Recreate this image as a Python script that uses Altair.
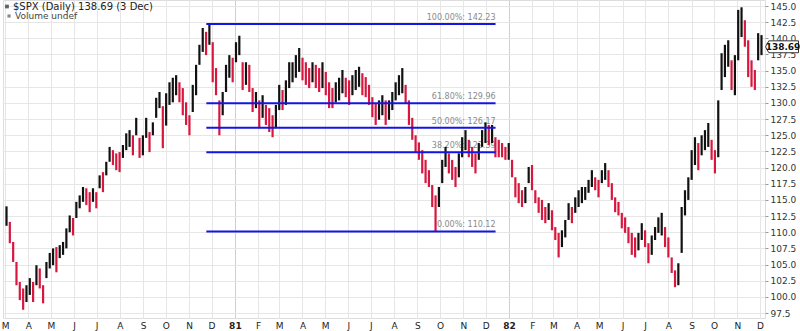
import altair as alt
import pandas as pd
import numpy as np

# ~3-trading-day high/low readings of $SPX, Mar 1980 - Dec 1982
highs = [
    114.0, 111.6, 108.5, 105.4, 102.3, 101.3, 101.8, 102.9, 102.3, 104.9,
    104.4, 101.8, 105.4, 106.8, 107.5, 107.7, 108.0, 108.5, 110.6, 112.6,
    112.2, 114.7, 115.7, 117.0, 116.8, 116.2, 116.8, 116.2, 118.8, 119.3,
    120.9, 123.2, 122.7, 122.2, 122.4, 123.5, 125.3, 125.8, 125.0, 127.7,
    124.6, 125.0, 127.7, 125.5, 127.0, 130.8, 131.7, 129.5, 131.5, 133.2,
    133.9, 134.3, 133.2, 132.3, 130.1, 128.1, 132.8, 135.9, 139.0, 141.6,
    141.0, 142.2, 139.4, 135.4, 130.4, 131.7, 135.9, 137.4, 137.0, 139.4,
    140.4, 136.3, 136.3, 135.9, 132.3, 131.7, 130.4, 131.2, 129.7, 129.2,
    128.1, 129.7, 132.8, 132.0, 133.5, 136.3, 136.3, 137.4, 138.5, 137.0,
    136.3, 135.4, 136.3, 135.9, 135.4, 136.3, 134.8, 133.2, 132.3, 133.2,
    133.9, 135.1, 133.9, 133.5, 134.3, 135.1, 135.6, 134.6, 134.0, 132.8,
    130.9, 130.0, 130.4, 131.2, 130.4, 130.4, 131.7, 133.2, 134.3, 135.4,
    132.8, 130.4, 127.7, 125.0, 123.9, 122.7, 121.2, 119.6, 117.3, 115.7,
    117.0, 121.2, 123.2, 122.2, 121.2, 120.1, 122.2, 124.7, 125.8, 124.3,
    123.2, 122.2, 123.8, 125.8, 127.0, 126.6, 126.6, 124.7, 124.3, 123.8,
    123.2, 123.8, 121.2, 118.5, 117.6, 116.5, 117.0, 120.1, 120.4, 116.5,
    115.4, 115.0, 113.9, 114.5, 113.4, 110.8, 109.9, 110.3, 111.9, 114.5,
    113.9, 115.4, 116.5, 117.0, 117.0, 118.1, 119.6, 118.5, 118.1, 119.6,
    120.7, 119.6, 117.6, 115.4, 114.7, 113.0, 112.3, 110.8, 109.9, 109.2,
    109.9, 111.4, 110.3, 108.3, 109.5, 110.8, 112.3, 113.0, 110.8, 109.2,
    106.1, 104.1, 105.2, 113.9, 116.5, 118.5, 122.7, 124.7, 123.8, 125.0,
    125.8, 126.9, 124.3, 122.7, 130.4, 137.7, 139.0, 139.7, 136.6, 137.4,
    144.4, 144.8, 142.8, 139.7, 136.6, 135.1, 140.8, 140.5,
]
lows = [
    111.0, 108.3, 105.4, 101.8, 99.5, 98.0, 99.2, 100.3, 99.2, 101.8,
    101.3, 99.0, 102.9, 104.4, 104.9, 103.8, 106.0, 106.5, 107.5, 110.0,
    109.5, 112.2, 113.7, 114.7, 114.2, 113.1, 114.7, 113.7, 116.8, 116.2,
    118.8, 120.9, 120.4, 119.6, 119.3, 121.5, 122.7, 123.2, 121.9, 125.0,
    121.5, 121.9, 124.6, 122.4, 125.0, 127.7, 129.2, 123.0, 126.5, 129.7,
    130.1, 131.2, 130.1, 128.1, 126.6, 125.0, 128.6, 131.2, 135.9, 137.9,
    137.4, 139.0, 133.2, 131.2, 125.0, 128.1, 131.7, 133.9, 133.2, 136.3,
    137.4, 132.0, 132.8, 131.7, 128.6, 129.2, 126.1, 127.7, 126.6, 125.5,
    124.7, 126.1, 128.9, 128.9, 129.7, 132.3, 133.2, 133.9, 134.8, 133.5,
    132.8, 132.3, 133.2, 132.3, 131.7, 132.3, 131.2, 129.2, 129.2, 130.1,
    130.4, 131.5, 130.9, 129.7, 131.2, 132.0, 132.5, 131.2, 130.9, 129.7,
    127.8, 126.6, 127.4, 128.1, 126.6, 127.4, 128.9, 130.4, 131.2, 131.5,
    130.0, 126.6, 124.3, 122.4, 121.2, 119.1, 117.6, 117.0, 113.9, 110.1,
    113.9, 117.6, 120.1, 119.1, 118.1, 117.0, 118.5, 121.6, 122.7, 121.6,
    120.1, 119.1, 121.2, 123.2, 123.8, 123.5, 123.8, 121.6, 121.6, 121.6,
    121.2, 121.2, 118.5, 115.4, 114.5, 113.9, 114.5, 117.6, 116.5, 114.5,
    113.0, 111.9, 111.4, 111.9, 110.3, 108.8, 106.1, 107.7, 109.2, 111.9,
    111.4, 113.0, 113.9, 114.5, 115.0, 116.1, 117.0, 116.5, 115.4, 117.6,
    118.1, 117.0, 115.0, 113.1, 112.6, 110.6, 109.9, 108.3, 106.5, 106.1,
    107.2, 108.8, 107.7, 105.2, 106.5, 108.8, 109.9, 109.5, 107.7, 106.1,
    103.7, 101.5, 101.8, 106.8, 112.6, 115.0, 118.1, 120.4, 119.6, 121.9,
    122.7, 123.2, 121.2, 119.1, 121.6, 132.0, 134.0, 135.6, 132.0, 131.2,
    136.6, 140.2, 138.7, 134.0, 132.5, 132.0, 136.6, 137.4,
]

fib_levels = [142.23, 129.96, 126.17, 122.39, 110.12]
fib_labels = ["100.00%: 142.23", "61.80%: 129.96", "50.00%: 126.17",
              "38.20%: 122.39", "0.00%: 110.12"]
fib_start = "1980-11-24"
fib_end = "1981-12-14"
last_price = 138.69
title_text = "$SPX (Daily) 138.69 (3 Dec)"
subtitle_text = "Volume undef"
y_ticks = [97.5 + 2.5 * i for i in range(20)]
month_ticks = pd.date_range("1980-03-01", "1982-12-01", freq="MS")

dates = pd.date_range("1980-03-03", "1982-12-03", periods=len(highs))
df = pd.DataFrame({"date": dates, "high": highs, "low": lows})
mid = (df["high"] + df["low"]) / 2
df["dir"] = np.where(mid >= mid.shift(1).fillna(mid), "up", "down")

fib = pd.DataFrame({"level": fib_levels, "label": fib_labels,
                    "start": pd.to_datetime(fib_start), "end": pd.to_datetime(fib_end)})

W, H = 762, 318
FONT = "DejaVu Sans"

def dt(s):
    t = pd.Timestamp(s)
    return alt.DateTime(year=t.year, month=t.month, date=t.day, hours=t.hour)

xscale = alt.Scale(domain=[dt("1980-02-27 08:00"), dt("1982-12-07 16:00")])
yscale = alt.Scale(domain=[96.73, 145.93], zero=False, nice=False)

xaxis = alt.Axis(
    values=[dt(m) for m in month_ticks],
    labelExpr="month(datum.value) == 0 ? timeFormat(datum.value, '%y') : slice(timeFormat(datum.value, '%b'), 0, 1)",
    labelFontWeight={"condition": {"test": "month(datum.value) === 0", "value": "bold"}, "value": "normal"},
    gridColor={"condition": {"test": "month(datum.value) === 0", "value": "#cfcfcf"}, "value": "#e6e6e6"},
    grid=True, domain=False, ticks=False, labelPadding=3, labelFontSize=9,
    labelColor="#222", labelFont=FONT, title=None, labelOverlap=False, labelBound=False,
    labelFlush=False,
)
yaxis = alt.Axis(
    orient="right", values=y_ticks, format=".1f", grid=True, gridColor="#e6e6e6",
    tickSize=3, tickColor="#999", labelFontSize=9, labelFont=FONT, labelColor="#333",
    labelPadding=2, domain=False, title=None, labelOverlap=False, labelBound=False,
    labelFlush=False,
)

def X(field):
    return alt.X(field, scale=xscale, axis=xaxis)

def Y(field):
    return alt.Y(field, scale=yscale, axis=yaxis)

fib_text = alt.Chart(fib).mark_text(
    align="right", baseline="bottom", dy=-2, fontSize=8, font=FONT, color="#8a8a8a",
).encode(x=X("end:T"), y=Y("level:Q"), text="label:N")

bars = alt.Chart(df).mark_rule(strokeWidth=2.2).encode(
    x=X("date:T"),
    y=Y("low:Q"),
    y2="high:Q",
    color=alt.Color("dir:N", scale=alt.Scale(domain=["up", "down"], range=["#111111", "#d8173f"]), legend=None),
)

fib_lines = alt.Chart(fib).mark_rule(color="#1414e6", strokeWidth=2).encode(
    x=X("start:T"), x2="end:T", y=Y("level:Q"),
)

one = pd.DataFrame({"t": [title_text], "s": [subtitle_text], "p": [last_price],
                    "pl": [f"{last_price:.2f}"]})
title = alt.Chart(one).mark_text(align="left", baseline="middle", fontSize=10, font=FONT, color="#222").encode(
    x=alt.value(10), y=alt.value(6.5), text="t:N")
subtitle = alt.Chart(one).mark_text(align="left", baseline="middle", fontSize=9, font=FONT, color="#444").encode(
    x=alt.value(12), y=alt.value(16), text="s:N")
icon1 = alt.Chart(one).mark_point(shape="square", filled=True, color="#222", size=14).encode(
    x=alt.value(4), y=alt.value(6.5))
icon2 = alt.Chart(one).mark_point(shape="square", filled=True, color="#555", size=10).encode(
    x=alt.value(6), y=alt.value(16))

box = alt.Chart(one).mark_point(
    shape="M -1 0 L -0.8 -0.36 L 1 -0.36 L 1 0.36 L -0.8 0.36 Z",
    size=1089, filled=True, fill="white", stroke="#333", strokeWidth=1, opacity=1,
).encode(x=alt.value(W + 17), y=Y("p:Q"))
box_text = alt.Chart(one).mark_text(
    fontSize=9, font=FONT, fontWeight="bold", color="#111", align="center", baseline="middle", dx=1,
).encode(x=alt.value(W + 17), y=Y("p:Q"), text="pl:N")

chart = alt.layer(
    fib_text, bars, fib_lines, title, subtitle, icon1, icon2, box, box_text
).properties(
    width=W, height=H,
    autosize=alt.AutoSizeParams(type="none"),
    padding={"left": 3, "top": 0, "right": 35, "bottom": 13},
).configure_view(stroke="#c4c4c4", strokeWidth=1).configure(background="white")

chart.save("out.html", embed_options={"renderer": "svg", "actions": False})
